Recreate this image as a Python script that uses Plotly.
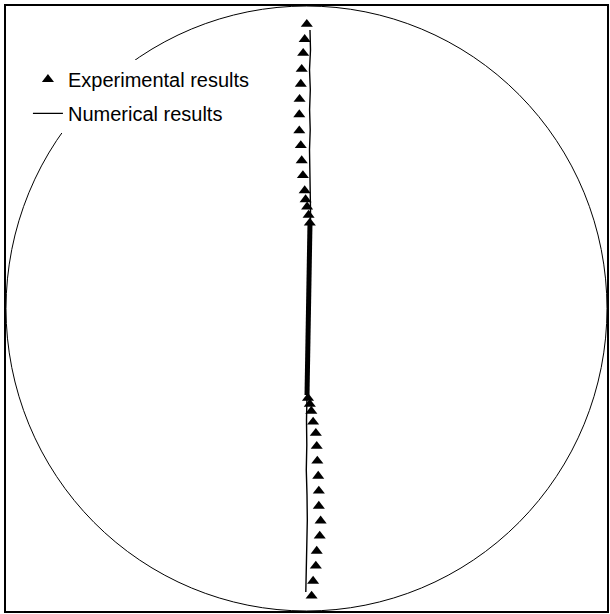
import plotly.graph_objects as go

# Experimental results (normalized coordinates, circle radius = 1)
exp_x = [0.001, -0.006, -0.011, -0.016, -0.019, -0.023, -0.024, -0.024, -0.019, -0.016,
         -0.012, -0.006, -0.003, 0.002, 0.007, 0.011,
         0.005, 0.011, 0.016, 0.022, 0.031, 0.034, 0.036, 0.039, 0.041, 0.041,
         0.047, 0.044, 0.034, 0.031, 0.022, 0.017]
exp_y = [0.940, 0.890, 0.844, 0.791, 0.742, 0.692, 0.641, 0.588, 0.539, 0.489,
         0.440, 0.390, 0.360, 0.336, 0.309, 0.283,
         -0.296, -0.316, -0.339, -0.375, -0.412, -0.455, -0.504, -0.554, -0.603, -0.653,
         -0.702, -0.752, -0.802, -0.851, -0.901, -0.950]

# Numerical results (thin wavy line, upper and lower parts)
num_up_x = [0.0116, 0.0133, 0.0100, 0.0126, 0.0103, 0.0123, 0.0100, 0.0116, 0.0110, 0.0133, 0.0133]
num_up_y = [0.921, 0.855, 0.789, 0.723, 0.657, 0.591, 0.525, 0.459, 0.393, 0.327, 0.284]
num_lo_x = [0.0017, 0.0000, 0.0010, -0.0007, 0.0017, 0.0027, 0.0010, -0.0010, -0.0023]
num_lo_y = [-0.286, -0.369, -0.451, -0.534, -0.617, -0.699, -0.782, -0.865, -0.937]

# Numerical results, dense central segment (drawn bold)
num_mid_x = [0.0116, 0.0100, 0.0083, 0.0066, 0.0050, 0.0017]
num_mid_y = [0.284, 0.161, 0.028, -0.104, -0.203, -0.286]

fig = go.Figure()

fig.add_trace(go.Scatter(
    x=exp_x, y=exp_y, mode="markers", name="Experimental results",
    marker=dict(symbol="triangle-up", size=10.5, color="black"),
    legendgroup="a"))

fig.add_trace(go.Scatter(
    x=num_up_x + [None] + num_lo_x, y=num_up_y + [None] + num_lo_y,
    mode="lines", name="Numerical results",
    line=dict(color="black", width=1.4), legendgroup="b"))

fig.add_trace(go.Scatter(
    x=num_mid_x, y=num_mid_y, mode="lines", showlegend=False,
    line=dict(color="black", width=5), legendgroup="b"))

fig.add_shape(type="circle", xref="x", yref="y", x0=-1, y0=-1, x1=1, y1=1,
              line=dict(color="black", width=1), layer="below")

axis_common = dict(showgrid=False, zeroline=False, showticklabels=False, ticks="",
                   showline=True, linecolor="black", linewidth=2, mirror=True)

fig.update_layout(
    width=610, height=614,
    margin=dict(l=6, r=1, t=6, b=3),
    paper_bgcolor="white", plot_bgcolor="white",
    xaxis=dict(range=[-1, 1], **axis_common),
    yaxis=dict(range=[-1, 1], **axis_common),
    showlegend=True,
    legend=dict(x=0.0365, y=0.911, xanchor="left", yanchor="top",
                bgcolor="white", borderwidth=0,
                font=dict(family="Liberation Sans, Arial, sans-serif", size=20, color="black"),
                traceorder="grouped", tracegroupgap=5),
)

fig.write_html("out.html")
